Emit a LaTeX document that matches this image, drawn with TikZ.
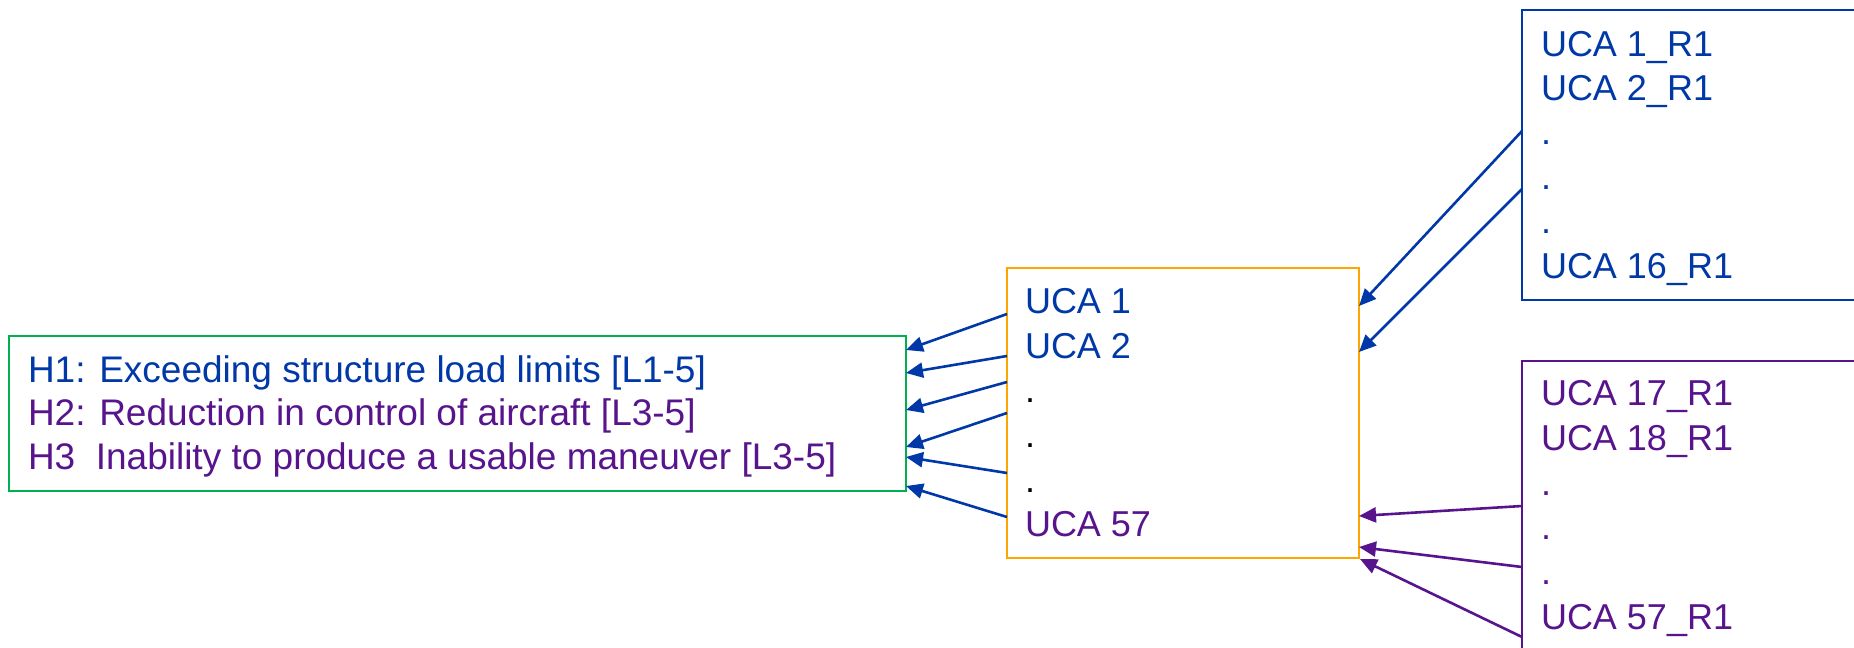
\documentclass[tikz,border=0pt]{standalone}
\usepackage{fontspec}
\setmainfont{Liberation Sans}
\usetikzlibrary{arrows.meta,calc}

\definecolor{ucablue}{RGB}{0,56,168}
\definecolor{ucapurple}{RGB}{88,20,140}
\definecolor{boxorange}{RGB}{255,165,0}
\definecolor{boxgreen}{RGB}{0,176,80}

\tikzset{
  frame/.style={draw, line width=1pt, rectangle, inner sep=0pt, outer sep=0pt},
  txt/.style={anchor=base west, inner sep=0pt, outer sep=0pt,
              font=\fontsize{18pt}{22pt}\selectfont},
  hztxt/.style={txt, font=\fontsize{18.5pt}{22pt}\selectfont},
  link/.style={line width=1.3pt, -{Triangle[length=8.5pt,width=7.5pt]}},
}

\begin{document}
\begin{tikzpicture}[x=0.5pt, y=-0.5pt]
  \useasboundingbox (0,0) rectangle (1854,648);
  \clip (0,0) rectangle (1854,648);

  % boxes
  \node[frame, draw=boxgreen, minimum width=448.5pt, minimum height=77.5pt]
    (haz) at (457.5,413.5) {};
  \node[frame, draw=boxorange, minimum width=176pt, minimum height=145pt]
    (uca) at (1183,413) {};
  \node[frame, draw=ucablue, minimum width=239pt, minimum height=145pt]
    (rblue) at (1761,155) {};
  \node[frame, draw=ucapurple, minimum width=239pt, minimum height=170pt]
    (rpurple) at (1761,531) {};

  % hazard list
  \node[hztxt, text=ucablue]   (h1) at (28,382.3) {H1: Exceeding structure load limits [L1-5]};
  \node[hztxt, text=ucapurple] (h2) at (28,425.7) {H2: Reduction in control of aircraft [L3-5]};
  \node[hztxt, text=ucapurple] (h3) at (28,469.3) {H3\ \ Inability to produce a usable maneuver [L3-5]};

  % unsafe control actions
  \node[txt, text=ucablue]   (u1)  at (1025,313.3) {UCA 1};
  \node[txt, text=ucablue]   (u2)  at (1025,358.0) {UCA 2};
  \node[txt, text=black]     (ud1) at (1025,402.7) {.};
  \node[txt, text=black]     (ud2) at (1025,447.4) {.};
  \node[txt, text=black]     (ud3) at (1025,492.0) {.};
  \node[txt, text=ucapurple] (u57) at (1025,536.8) {UCA 57};

  % refined actions, first group
  \node[txt, text=ucablue] (b1)  at (1541,56.0)  {UCA 1\_R1};
  \node[txt, text=ucablue] (b2)  at (1541,100.4) {UCA 2\_R1};
  \node[txt, text=ucablue] (bd1) at (1541,144.8) {.};
  \node[txt, text=ucablue] (bd2) at (1541,189.2) {.};
  \node[txt, text=ucablue] (bd3) at (1541,233.6) {.};
  \node[txt, text=ucablue] (b16) at (1541,278.0) {UCA 16\_R1};

  % refined actions, second group
  \node[txt, text=ucapurple] (p17) at (1541,405.7) {UCA 17\_R1};
  \node[txt, text=ucapurple] (p18) at (1541,450.4) {UCA 18\_R1};
  \node[txt, text=ucapurple] (pd1) at (1541,495.1) {.};
  \node[txt, text=ucapurple] (pd2) at (1541,539.8) {.};
  \node[txt, text=ucapurple] (pd3) at (1541,584.5) {.};
  \node[txt, text=ucapurple] (p57) at (1541,629.2) {UCA 57\_R1};

  % connector end points on the box borders
  \coordinate (ua1) at ($(uca.north west)+(0,46)$);
  \coordinate (ua2) at ($(uca.north west)+(0,88)$);
  \coordinate (ua3) at ($(uca.north west)+(0,114)$);
  \coordinate (ua4) at ($(uca.north west)+(0,145)$);
  \coordinate (ua5) at ($(uca.north west)+(0,205)$);
  \coordinate (ua6) at ($(uca.north west)+(0,249)$);
  \coordinate (ha1) at ($(haz.north east)+(0,14)$);
  \coordinate (ha2) at ($(haz.north east)+(0,37)$);
  \coordinate (ha3) at ($(haz.north east)+(0,74)$);
  \coordinate (ha4) at ($(haz.north east)+(0,111)$);
  \coordinate (ha5) at ($(haz.north east)+(0,121)$);
  \coordinate (ha6) at ($(haz.north east)+(0,150)$);

  \coordinate (rb1) at ($(rblue.north west)+(0,121)$);
  \coordinate (rb2) at ($(rblue.north west)+(0,179)$);
  \coordinate (ub1) at ($(uca.north east)+(0,38)$);
  \coordinate (ub2) at ($(uca.north east)+(0,84)$);

  \coordinate (rp1) at ($(rpurple.north west)+(0,145)$);
  \coordinate (rp2) at ($(rpurple.north west)+(0,206)$);
  \coordinate (rp3) at ($(rpurple.north west)+(0,276)$);
  \coordinate (up1) at ($(uca.north east)+(0,248)$);
  \coordinate (up2) at ($(uca.north east)+(0,279)$);
  \coordinate (up3) at ($(uca.north east)+(1,291)$);

  % connectors
  \foreach \i in {1,...,6}
    \draw[link, ucablue] (ua\i) -- (ha\i);
  \draw[link, ucablue] (rb1) -- (ub1);
  \draw[link, ucablue] (rb2) -- (ub2);
  \draw[link, ucapurple] (rp1) -- (up1);
  \draw[link, ucapurple] (rp2) -- (up2);
  \draw[link, ucapurple] (rp3) -- (up3);
\end{tikzpicture}
\end{document}
